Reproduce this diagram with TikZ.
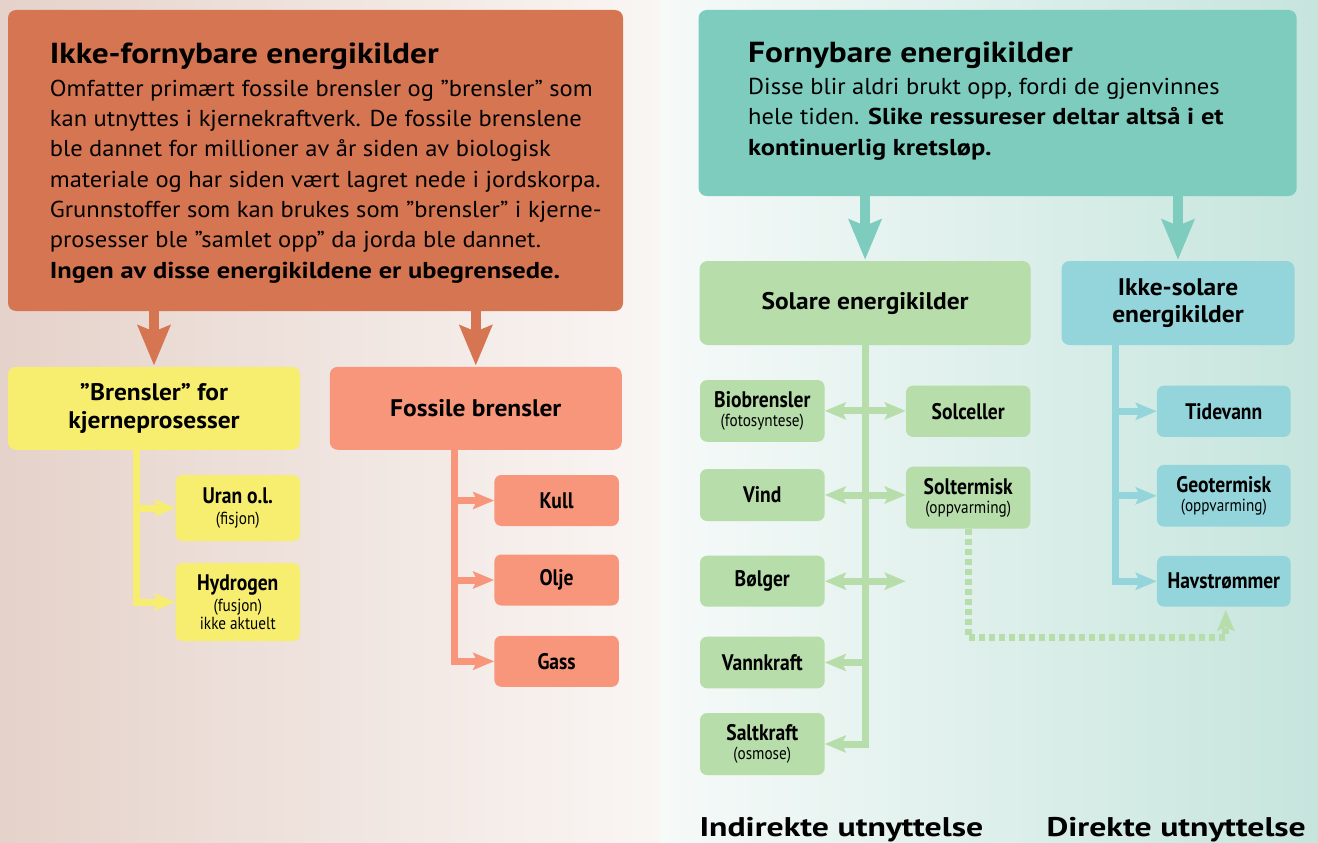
\documentclass[tikz,border=0pt]{standalone}
\usepackage{fontspec}
\setmainfont{PT Sans}
\newfontfamily\rfam{PT Sans}[FakeStretch=1.065]
\newfontfamily\bfam{PT Sans}[FakeStretch=1.15]
\newfontfamily\mfam{PT Sans}[FakeStretch=1.06]
\newfontfamily\wfam{PT Sans}[FakeStretch=1.25]
\newfontfamily\cond{PT Sans}[FakeStretch=0.87]
\usetikzlibrary{arrows.meta}
\definecolor{bgL}{RGB}{229,210,202}
\definecolor{bgM}{RGB}{250,246,244}
\definecolor{bgN}{RGB}{246,250,249}
\definecolor{bgR}{RGB}{198,229,221}
\definecolor{rust}{RGB}{214,117,81}
\definecolor{teal}{RGB}{125,204,190}
\definecolor{yel}{RGB}{247,238,112}
\definecolor{salm}{RGB}{247,150,122}
\definecolor{grn}{RGB}{182,221,170}
\definecolor{blu}{RGB}{147,213,219}
\newcommand\subl[1]{{\fontsize{17.5}{19}\selectfont\mdseries #1}}
\newcommand\bb[1]{{\bfam\bfseries #1}}
\begin{document}
\begin{tikzpicture}[x=1pt,y=-1pt,
  bigbox/.style={rounded corners=8pt, inner sep=0pt},
  lbl/.style={rounded corners=7pt, inner sep=0pt, align=center,
    font=\cond\bfseries\fontsize{22.5}{25}\selectfont},
  mlbl/.style={rounded corners=8pt, inner sep=0pt, align=center,
    font=\mfam\bfseries\fontsize{24}{27.5}\selectfont},
  bodytxt/.style={anchor=base west, inner sep=0pt, align=left,
    font=\rfam\fontsize{23}{30.3}\selectfont},
  titletxt/.style={anchor=base west, inner sep=0pt,
    font=\bfam\bfseries\fontsize{29}{32}\selectfont},
  foottxt/.style={inner sep=0pt, font=\wfam\bfseries\fontsize{27}{30}\selectfont},
  bigarrow/.style={line width=10pt, -{Stealth[length=40pt,width=32pt,inset=6pt]}},
  conn/.style={line width=7pt},
  tip/.style={-{Stealth[length=21pt,width=17pt,inset=4pt]}},
  dtip/.style={{Stealth[length=21pt,width=17pt,inset=4pt]}-{Stealth[length=21pt,width=17pt,inset=4pt]}},
]
\useasboundingbox (0,0) rectangle (1318,843);
\shade[left color=bgL, right color=bgM] (0,0) rectangle (660,843);
\shade[left color=bgN, right color=bgR] (660,0) rectangle (1318,843);

% top boxes
\node[bigbox, fill=rust, minimum width=615pt, minimum height=301pt] (ikke) at (315.5,160.5) {};
\node[bigbox, fill=teal, minimum width=598pt, minimum height=186pt] (forn) at (997.6,103) {};
\node[titletxt] (ikket) at (49.7,63.3) {Ikke-fornybare energikilder};
\node[bodytxt] (ikkeb) at (49.7,278) {Omfatter primært fossile brensler og ”brensler” som\\
kan utnyttes i kjernekraftverk. De fossile brenslene\\
ble dannet for millioner av år siden av biologisk\\
materiale og har siden vært lagret nede i jordskorpa.\\
Grunnstoffer som kan brukes som ”brensler” i kjerne-\\
prosesser ble ”samlet opp” da jorda ble dannet.\\
\bb{Ingen av disse energikildene er ubegrensede.}};
\node[titletxt] (fornt) at (748,63) {Fornybare energikilder};
\node[bodytxt] (fornb) at (748,155) {Disse blir aldri brukt opp, fordi de gjenvinnes\\
hele tiden. \bb{Slike ressureser deltar altså i et}\\
\bb{kontinuerlig kretsløp.}};

% second level
\node[mlbl, fill=yel, minimum width=292pt, minimum height=83pt] (bren) at (154,408.3) {”Brensler” for\\kjerneprosesser};
\node[mlbl, fill=salm, minimum width=292pt, minimum height=83pt] (foss) at (475.8,408.3) {Fossile brensler};
\node[mlbl, fill=grn, minimum width=331pt, minimum height=84pt] (sol) at (865.1,303) {Solare energikilder};
\node[mlbl, fill=blu, minimum width=233pt, minimum height=84pt] (iks) at (1178,303) {Ikke-solare\\energikilder};

% leaves left
\node[lbl, fill=yel, minimum width=124.5pt, minimum height=66pt] (uran) at (237.8,508) {Uran o.l.\\[-4.5pt]\subl{(fisjon)}};
\node[lbl, fill=yel, minimum width=124.5pt, minimum height=78pt] (hyd) at (237.8,602) {Hydrogen\\[-4.5pt]\subl{(fusjon)}\\[-7pt]\subl{ikke aktuelt}};
\node[lbl, fill=salm, minimum width=124.5pt, minimum height=51pt] (kull) at (556.6,500.5) {Kull};
\node[lbl, fill=salm, minimum width=124.5pt, minimum height=51pt] (olje) at (556.6,580) {Olje};
\node[lbl, fill=salm, minimum width=124.5pt, minimum height=51pt] (gass) at (556.6,661.3) {Gass};

% leaves right
\node[lbl, fill=grn, minimum width=124.6pt, minimum height=61.7pt] (bio) at (762.3,410.9) {Biobrensler\\[-5.5pt]\subl{(fotosyntese)}};
\node[lbl, fill=grn, minimum width=124.4pt, minimum height=51.3pt] (solc) at (968.2,411.3) {Solceller};
\node[lbl, fill=grn, minimum width=124.6pt, minimum height=52pt] (vind) at (762.3,495) {Vind};
\node[lbl, fill=grn, minimum width=124.4pt, minimum height=62pt] (solt) at (968.2,497.7) {Soltermisk\\[-5.5pt]\subl{(oppvarming)}};
\node[lbl, fill=grn, minimum width=124.6pt, minimum height=51pt] (bolg) at (762.3,581.2) {Bølger};
\node[lbl, fill=grn, minimum width=124.6pt, minimum height=51.6pt] (vann) at (762.3,662.5) {Vannkraft};
\node[lbl, fill=grn, minimum width=124.6pt, minimum height=62pt] (salt) at (762.3,744) {Saltkraft\\[-5.5pt]\subl{(osmose)}};
\node[lbl, fill=blu, minimum width=133.7pt, minimum height=51.3pt] (tide) at (1223.8,411.3) {Tidevann};
\node[lbl, fill=blu, minimum width=133.7pt, minimum height=61.7pt] (geo) at (1223.8,495.8) {Geotermisk\\[-5.5pt]\subl{(oppvarming)}};
\node[lbl, fill=blu, minimum width=133.7pt, minimum height=50.7pt] (hav) at (1223.8,581.3) {Havstrømmer};

% bottom labels
\node[foottxt, anchor=base west] (indir) at (699.3,836.7) {Indirekte utnyttelse};
\node[foottxt, anchor=base east] (dir) at (1306,836.7) {Direkte utnyttelse};

% big arrows
\draw[bigarrow, rust] (ikke.south -| bren.north) -- ([yshift=1pt]bren.north);
\draw[bigarrow, rust] (ikke.south -| foss.north) -- ([yshift=1pt]foss.north);
\draw[bigarrow, teal] (forn.south -| sol.north) -- ([yshift=1pt]sol.north);
\draw[bigarrow, teal] (forn.south -| iks.north) -- ([yshift=1pt]iks.north);

% yellow connectors
\coordinate (ytop) at (bren.south -| 136.5,0);
\draw[conn, yel, tip] (ytop) |- (hyd.west);
\draw[conn, yel, tip] (ytop |- uran.west) -- (uran.west);
% salmon connectors
\coordinate (stop) at (foss.south -| 454.5,0);
\draw[conn, salm, tip] (stop) |- (gass.west);
\draw[conn, salm, tip] (stop |- kull.west) -- (kull.west);
\draw[conn, salm, tip] (stop |- olje.west) -- (olje.west);
% green connectors
\coordinate (gtop) at (sol.south);
\draw[conn, grn, tip] (gtop) |- (salt.east);
\draw[conn, grn, tip] (gtop |- vann.east) -- (vann.east);
\draw[conn, grn, dtip] (bio.east) -- (bio.east -| solc.west);
\draw[conn, grn, dtip] (vind.east) -- (vind.east -| solt.west);
\coordinate (bolgR) at (bolg.east -| solc.west);
\draw[conn, grn, dtip] (bolg.east) -- (bolgR);
% blue connectors
\coordinate (btop) at (iks.south -| 1115,0);
\draw[conn, blu, tip] (btop) |- (hav.west);
\draw[conn, blu, tip] (btop |- tide.west) -- (tide.west);
\draw[conn, blu, tip] (btop |- geo.west) -- (geo.west);
% dotted connector
\coordinate (dd) at (solt.south |- 0,637.7);
\draw[conn, grn, dash pattern=on 6pt off 4pt, tip, shorten >=3pt] (solt.south) -- (dd) -| ([xshift=2pt]hav.south);
\end{tikzpicture}
\end{document}
